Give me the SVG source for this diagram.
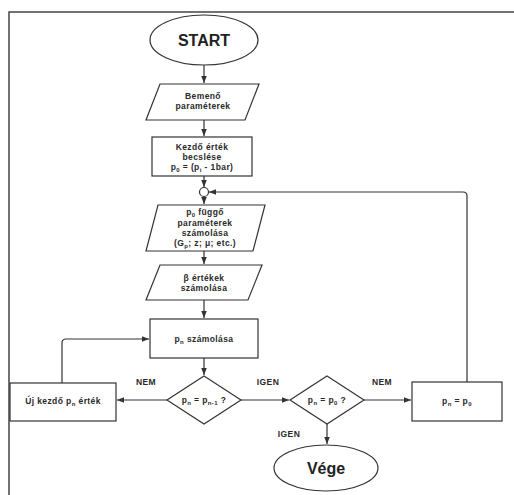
<svg xmlns="http://www.w3.org/2000/svg" width="514" height="495" viewBox="0 0 514 495">
<defs>
<marker id="ah" viewBox="0 0 10 10" refX="10" refY="5" markerWidth="7" markerHeight="7" orient="auto" markerUnits="userSpaceOnUse">
<path d="M0,1 L10,5 L0,9 Z" fill="#333"/>
</marker>
<style>
.s{fill:#fff;stroke:#333;stroke-width:1.2}
.c{fill:none;stroke:#333;stroke-width:1.2;marker-end:url(#ah)}
.t{font-family:"Liberation Sans",Arial,sans-serif;font-weight:bold;font-size:8.5px;fill:#2a2a2a;text-anchor:middle;letter-spacing:0.4px}
.b{font-family:"Liberation Sans",Arial,sans-serif;font-weight:bold;font-size:16px;fill:#222;text-anchor:middle}
.sub{font-size:6px}
</style>
</defs>
<rect width="514" height="495" fill="#fff"/>
<g id="frame" fill="none" stroke="#444" stroke-width="1.5">
<path d="M9 495 V12 H514"/>
</g>
<g id="connectors">
<path class="c" d="M204 65 V83"/>
<path class="c" d="M204 120 V136"/>
<path class="c" d="M204 176 V187"/>
<path class="c" d="M204 196.5 V204"/>
<path class="c" d="M204 251 V264"/>
<path class="c" d="M204 300 V318"/>
<path class="c" d="M204 358 V375"/>
<path class="c" d="M167 400 H117"/>
<path class="c" d="M62 383 V343 Q62 339 66 339 H149"/>
<path class="c" d="M241 400 H289"/>
<path class="c" d="M364 400 H411"/>
<path class="c" d="M467 382 V196 Q467 192 463 192 H209"/>
<path class="c" d="M327 424 V444"/>
</g>
<g id="start">
<ellipse class="s" cx="204" cy="40" rx="54" ry="25"/>
<text class="b" x="204" y="46">START</text>
</g>
<g id="bemeno">
<polygon class="s" points="160,84 259,84 245,120 146,120"/>
<text class="t" x="203" y="99">Bemenő</text>
<text class="t" x="203" y="109">paraméterek</text>
</g>
<g id="kezdo">
<rect class="s" x="152" y="137" width="100" height="39"/>
<text class="t" x="202" y="150">Kezdő érték</text>
<text class="t" x="202" y="160">becslése</text>
<text class="t" x="202" y="170">p<tspan class="sub" dy="2">0</tspan><tspan dy="-2"> = (p</tspan><tspan class="sub" dy="2">i</tspan><tspan dy="-2"> - 1bar)</tspan></text>
</g>
<g id="junction">
<circle class="s" cx="204" cy="192" r="4.5"/>
</g>
<g id="fuggo">
<polygon class="s" points="158,205 265,205 253,251 146,251"/>
<text class="t" x="205" y="215">p<tspan class="sub" dy="2">0</tspan><tspan dy="-2"> függő</tspan></text>
<text class="t" x="205" y="226">paraméterek</text>
<text class="t" x="205" y="236">számolása</text>
<text class="t" x="205" y="246">(G<tspan class="sub" dy="2">p</tspan><tspan dy="-2">; z; μ; etc.)</tspan></text>
</g>
<g id="beta">
<polygon class="s" points="160,265 262,265 248,300 146,300"/>
<text class="t" x="204" y="281">β értékek</text>
<text class="t" x="204" y="291">számolása</text>
</g>
<g id="pn">
<rect class="s" x="150" y="319" width="108" height="39"/>
<text class="t" x="204" y="342">p<tspan class="sub" dy="2">n</tspan><tspan dy="-2"> számolása</tspan></text>
</g>
<g id="dec1">
<polygon class="s" points="204,376 241,400 204,424 167,400"/>
<text class="t" x="204" y="403">p<tspan class="sub" dy="2">n</tspan><tspan dy="-2"> = p</tspan><tspan class="sub" dy="2">n-1</tspan><tspan dy="-2"> ?</tspan></text>
</g>
<g id="uj">
<rect class="s" x="10" y="383" width="106" height="38"/>
<text class="t" x="63" y="404">Új kezdő p<tspan class="sub" dy="2">n</tspan><tspan dy="-2"> érték</tspan></text>
</g>
<g id="dec2">
<polygon class="s" points="327,376 364,400 327,424 290,400"/>
<text class="t" x="327" y="403">p<tspan class="sub" dy="2">n</tspan><tspan dy="-2"> = p</tspan><tspan class="sub" dy="2">0</tspan><tspan dy="-2"> ?</tspan></text>
</g>
<g id="assign">
<rect class="s" x="412" y="382" width="90" height="39"/>
<text class="t" x="457" y="404">p<tspan class="sub" dy="2">n</tspan><tspan dy="-2"> = p</tspan><tspan class="sub" dy="2">0</tspan></text>
</g>
<g id="vege">
<ellipse class="s" cx="326" cy="468" rx="52" ry="23"/>
<text class="b" x="326" y="474">Vége</text>
</g>
<g id="labels">
<text class="t" x="146" y="385">NEM</text>
<text class="t" x="268" y="385">IGEN</text>
<text class="t" x="382" y="385">NEM</text>
<text class="t" x="289" y="437">IGEN</text>
</g>
</svg>
